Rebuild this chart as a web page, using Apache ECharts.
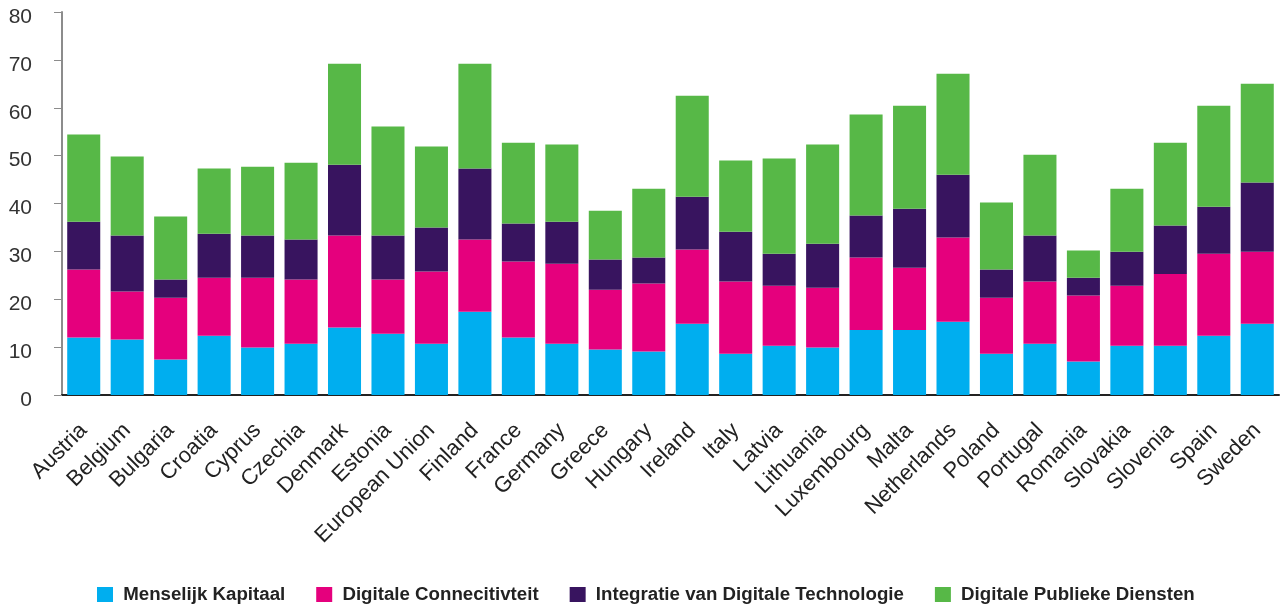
<!DOCTYPE html>
<html>
<head>
<meta charset="utf-8">
<script src="https://cdn.jsdelivr.net/npm/echarts@6/dist/echarts.min.js"></script>
<style>
  html, body { margin: 0; padding: 0; background: #fff; }
  #chart { width: 1282px; height: 605px; }
</style>
</head>
<body>
<div id="chart"></div>
<script>
const landen = ['Austria','Belgium','Bulgaria','Croatia','Cyprus','Czechia','Denmark','Estonia',
  'European Union','Finland','France','Germany','Greece','Hungary','Ireland','Italy','Latvia',
  'Lithuania','Luxembourg','Malta','Netherlands','Poland','Portugal','Romania','Slovakia',
  'Slovenia','Spain','Sweden'];

const menselijk_kapitaal = [12.0,11.6,7.4,12.4,9.9,10.7,14.1,12.8,10.7,17.4,12.0,10.7,9.5,9.1,
  14.9,8.6,10.3,9.9,13.6,13.6,15.3,8.6,10.7,7.0,10.3,10.3,12.4,14.9];
const digitale_connectiviteit = [14.2,10.0,12.9,12.1,14.6,13.4,19.2,11.3,15.1,15.1,15.9,16.7,12.5,14.2,
  15.5,15.1,12.5,12.5,15.1,13.0,17.6,11.7,13.0,13.8,12.5,15.0,17.1,15.0];
const integratie_technologie = [10.0,11.7,3.8,9.2,8.8,8.4,14.8,9.2,9.2,14.8,7.9,8.8,6.3,5.4,
  11.0,10.4,6.7,9.2,8.8,12.3,13.1,5.9,9.6,3.7,7.1,10.1,9.8,14.5];
const publieke_diensten = [18.2,16.5,13.2,13.6,14.4,16.0,21.1,22.8,16.9,21.9,16.9,16.1,10.2,14.4,
  21.1,14.9,19.9,20.7,21.1,21.5,21.1,14.0,16.9,5.7,13.2,17.3,21.1,20.6];

const y_ticks = [0, 10, 20, 30, 40, 50, 60, 70, 80];

const kleuren = ['#00aeef', '#e5007d', '#38145f', '#57b847'];
const namen = ['Menselijk Kapitaal', 'Digitale Connecitivteit',
  'Integratie van Digitale Technologie', 'Digitale Publieke Diensten'];
const reeksen = [menselijk_kapitaal, digitale_connectiviteit, integratie_technologie, publieke_diensten];

let option = {
  animation: false,
  grid: { left: 62, right: 3, top: 12, bottom: 210 },
  legend: {
    bottom: -4,
    left: 92,
    itemWidth: 16,
    itemHeight: 15,
    itemGap: 31,
    icon: 'rect',
    formatter: n => ' ' + n,
    textStyle: {
      fontFamily: 'Liberation Sans',
      fontWeight: 'bold',
      fontSize: 18.7,
      color: '#222'
    },
    data: namen
  },
  xAxis: {
    type: 'category',
    data: landen,
    axisTick: { show: false },
    axisLine: { lineStyle: { color: '#222', width: 2 } },
    axisLabel: {
      rotate: 45,
      interval: 0,
      margin: 32,
      fontFamily: 'Liberation Sans',
      fontSize: 22,
      color: '#222'
    }
  },
  yAxis: {
    type: 'value',
    min: 0,
    max: 80,
    interval: 10,
    splitLine: { show: false },
    axisLine: { show: true, lineStyle: { color: '#8c8c8c', width: 2 } },
    axisTick: { show: true, length: 8, lineStyle: { color: '#8c8c8c', width: 1 } },
    axisLabel: {
      margin: 30,
      verticalAlign: 'top',
      lineHeight: 10,
      fontFamily: 'Liberation Sans',
      fontSize: 21,
      color: '#333',
      formatter: v => y_ticks.includes(v) ? String(v) : ''
    }
  },
  series: reeksen.map((d, i) => ({
    name: namen[i],
    type: 'bar',
    stack: 'desi',
    barCategoryGap: '24%',
    data: d,
    itemStyle: { color: kleuren[i] }
  }))
};

const myChart = echarts.init(document.getElementById('chart'));
myChart.setOption(option);
</script>
</body>
</html>
